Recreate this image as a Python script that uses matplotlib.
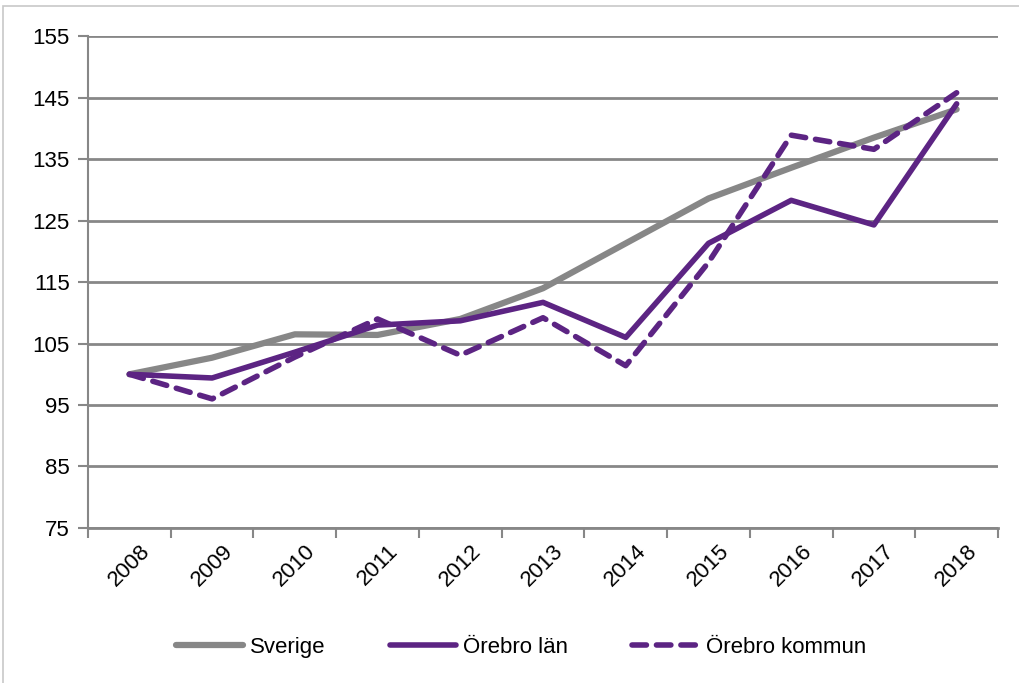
"""
Indexutveckling 2008-2018 (2008 = 100)
Sverige, Örebro län och Örebro kommun
"""
import numpy as np
import matplotlib.pyplot as plt
from matplotlib.patches import Rectangle

# Data
years = ['2008', '2009', '2010', '2011', '2012', '2013',
         '2014', '2015', '2016', '2017', '2018']
sverige = [100, 102.7, 106.5, 106.4, 109.0, 114.0, 121.3, 128.6, 133.6, 138.5, 143.1]
orebro_lan = [100, 99.4, 103.6, 108.0, 108.7, 111.7, 106.0, 121.3, 128.3, 124.3, 144.0]
orebro_kommun = [100, 96.0, 102.8, 109.0, 103.1, 109.2, 101.4, 118.2, 138.9, 136.6, 145.8]
yticks = [75, 85, 95, 105, 115, 125, 135, 145, 155]

grå = '#878787'
lila = '#5c2483'
plt.rcParams['font.family'] = ['Liberation Sans', 'DejaVu Sans']

fig = plt.figure(figsize=(10.19, 6.83), dpi=100)
ax = fig.add_axes([0.0864, 0.227, 0.893, 0.720])

x = np.arange(len(years))
ax.plot(x, sverige, color=grå, lw=4.5, label='Sverige', solid_capstyle='round')
ax.plot(x, orebro_lan, color=lila, lw=4, label='Örebro län', solid_capstyle='round')
ax.plot(x, orebro_kommun, color=lila, lw=4, ls=(0, (2.6, 1.8)), label='Örebro kommun',
        dash_capstyle='round')

# Axlar
ax.set_ylim(75, 155)
ax.set_yticks(yticks)
ax.set_xlim(-0.5, len(years) - 0.5)
ax.set_xticks(x)
ax.set_xticklabels(years, rotation=45, ha='center', fontsize=16)
ax.set_xticks(np.arange(-0.5, len(years)), minor=True)
ax.tick_params(axis='x', which='major', length=0, pad=9)
ax.tick_params(axis='x', which='minor', length=7, width=1.5, color=grå)
ax.tick_params(axis='y', length=7, width=1.5, color=grå, labelsize=16, direction='out', pad=6)
ax.grid(axis='y', color=grå, lw=2)
ax.set_axisbelow(True)
for s in ['top', 'right']:
    ax.spines[s].set_visible(False)
ax.spines['left'].set_color(grå)
ax.spines['left'].set_linewidth(1.5)
ax.spines['bottom'].set_color(grå)
ax.spines['bottom'].set_linewidth(2)

leg = ax.legend(loc='center', bbox_to_anchor=(0.476, -0.243), ncol=3, frameon=False,
                fontsize=16, handlelength=3, handletextpad=0.3, columnspacing=2.9)

# Ram runt bilden
fig.patches.append(Rectangle((3 / 1019, -0.1), 1.2, 1 - 6 / 683 + 0.1, transform=fig.transFigure,
                             fill=False, ec='#c8c8c8', lw=1.2))

fig.savefig('out.png', dpi=100)
